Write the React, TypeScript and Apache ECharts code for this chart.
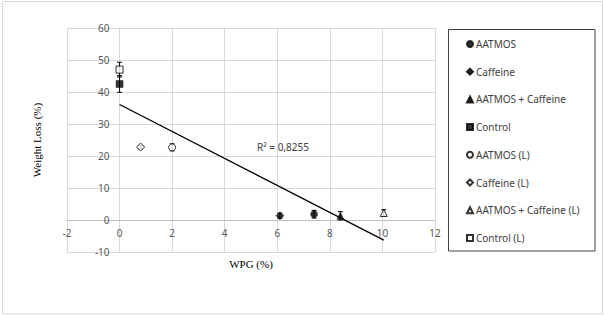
import React, { useEffect, useRef } from "react";
import * as echarts from "echarts";

// [x (WPG %), y (Weight loss %), error]
const aatmos = [[7.4, 1.8, 1.2]];
const caffeine = [[6.1, 1.35, 0.8]];
const aatmosCaffeine = [[8.4, 1.3, 1.3]];
const control = [[0, 42.5, 2.6]];
const aatmosL = [[2.0, 22.7, 1.1]];
const caffeineL = [[0.8, 22.8, 0.5]];
const aatmosCaffeineL = [[10.05, 2.2, 1.0]];
const controlL = [[0, 47, 2.3]];

const trendLine = [
  [0, 36.1],
  [10.05, -6.3],
];
const rSquaredLabel = "R² = 0,8255";

const xTicks = { min: -2, max: 12, interval: 2 };
const yTicks = { min: -10, max: 60, interval: 10 };

const seriesDefs = [
  { name: "AATMOS", data: aatmos, symbol: "circle", filled: true, size: 7 },
  { name: "Caffeine", data: caffeine, symbol: "diamond", filled: true, size: 8 },
  { name: "AATMOS + Caffeine", data: aatmosCaffeine, symbol: "triangle", filled: true, size: 7 },
  { name: "Control", data: control, symbol: "rect", filled: true, size: 7 },
  { name: "AATMOS (L)", data: aatmosL, symbol: "circle", filled: false, size: 7 },
  { name: "Caffeine (L)", data: caffeineL, symbol: "diamond", filled: false, size: 8 },
  { name: "AATMOS + Caffeine (L)", data: aatmosCaffeineL, symbol: "triangle", filled: false, size: 7 },
  { name: "Control (L)", data: controlL, symbol: "rect", filled: false, size: 7 },
];

const GRID = { left: 67, top: 28, width: 368, height: 224 };

export default function App() {
  const ref = useRef<HTMLDivElement>(null);
  useEffect(() => {
    document.body.style.margin = "0";
    const chart = echarts.init(ref.current!, null, { renderer: "svg" });

    const errorData: number[][] = [];
    seriesDefs.forEach((s) =>
      s.data.forEach((d) => errorData.push([d[0], d[1] - d[2], d[1] + d[2]]))
    );

    // axes cross at zero (Excel style): shift each axis, with its labels, onto the other's zero
    const xAxisOffset = -(GRID.height * (0 - yTicks.min)) / (yTicks.max - yTicks.min);
    const yAxisOffset = -(GRID.width * (0 - xTicks.min)) / (xTicks.max - xTicks.min);

    const scatterSeries = seriesDefs.map((s) => ({
      name: s.name,
      type: "scatter",
      symbol: s.symbol,
      symbolSize: s.size,
      z: 5,
      data: s.data.map((d) => [d[0], d[1]]),
      itemStyle: s.filled
        ? { color: "#000000", borderColor: "#000000", borderWidth: 0.5 }
        : { color: "#ffffff", borderColor: "#000000", borderWidth: 1 },
    }));

    const option: any = {
      animation: false,
      backgroundColor: "#ffffff",
      grid: {
        ...GRID,
        containLabel: false,
        outerBoundsMode: "none",
      },
      xAxis: {
        type: "value",
        min: xTicks.min,
        max: xTicks.max,
        interval: xTicks.interval,
        offset: xAxisOffset,
        name: "WPG (%)",
        nameLocation: "middle",
        nameGap: 38,
        nameMoveOverlap: false,
        nameTextStyle: {
          fontFamily: "Liberation Serif",
          fontSize: 11,
          fontWeight: "normal",
          color: "#000000",
        },
        axisLine: { onZero: false, lineStyle: { color: "#bfbfbf", width: 1 } },
        axisTick: { show: false },
        axisLabel: { color: "#595959", fontSize: 10, fontFamily: "Noto Sans", margin: 8 },
        splitLine: { show: true, lineStyle: { color: "#d9d9d9", width: 1 } },
      },
      yAxis: {
        type: "value",
        min: yTicks.min,
        max: yTicks.max,
        interval: yTicks.interval,
        offset: yAxisOffset,
        name: "Weight Loss (%)",
        nameLocation: "middle",
        nameGap: 77,
        nameMoveOverlap: false,
        nameTextStyle: {
          fontFamily: "Liberation Serif",
          fontSize: 11,
          fontWeight: "normal",
          color: "#000000",
        },
        axisLine: { onZero: false, lineStyle: { color: "#d9d9d9", width: 1 } },
        axisTick: { show: false },
        axisLabel: { color: "#595959", fontSize: 10, fontFamily: "Noto Sans", margin: 10 },
        splitLine: { show: true, lineStyle: { color: "#d9d9d9", width: 1 } },
      },
      legend: {
        orient: "vertical",
        left: 466,
        top: 29,
        padding: [9, 0, 0, 0],
        itemWidth: 6,
        itemHeight: 6,
        itemGap: 15.7,
        selectedMode: false,
        data: seriesDefs.map((s) => s.name),
        textStyle: {
          color: "#404040",
          fontSize: 10,
          fontFamily: "Noto Sans",
          lineHeight: 12,
          padding: [0, 0, 0, -2],
        },
      },
      graphic: [
        {
          type: "rect",
          shape: { x: 2.5, y: 1.5, width: 600, height: 312.5 },
          style: { fill: "none", stroke: "#d9d9d9", lineWidth: 1 },
          silent: true,
        },
        {
          type: "rect",
          shape: { x: 448.5, y: 29.5, width: 146.5, height: 221.5 },
          style: { fill: "none", stroke: "#404040", lineWidth: 1 },
          silent: true,
        },
        {
          type: "text",
          left: 257,
          top: 142,
          style: {
            text: rSquaredLabel,
            fill: "#404040",
            fontSize: 10,
            fontFamily: "Noto Sans",
          },
        },
      ],
      series: [
        {
          name: "trend",
          type: "line",
          data: trendLine,
          symbol: "none",
          lineStyle: { color: "#000000", width: 1.3 },
          z: 3,
          silent: true,
        },
        {
          name: "errors",
          type: "custom",
          z: 4,
          silent: true,
          data: errorData,
          renderItem: (params: any, api: any) => {
            const x = api.value(0);
            const lo = api.coord([x, api.value(1)]);
            const hi = api.coord([x, api.value(2)]);
            const cap = 2.5;
            const style = { stroke: "#000000", lineWidth: 1 };
            return {
              type: "group",
              children: [
                { type: "line", shape: { x1: lo[0], y1: lo[1], x2: hi[0], y2: hi[1] }, style },
                { type: "line", shape: { x1: lo[0] - cap, y1: lo[1], x2: lo[0] + cap, y2: lo[1] }, style },
                { type: "line", shape: { x1: hi[0] - cap, y1: hi[1], x2: hi[0] + cap, y2: hi[1] }, style },
              ],
            };
          },
        },
        ...scatterSeries,
      ],
    };
    chart.setOption(option);
    return () => chart.dispose();
  }, []);
  return <div ref={ref} style={{ width: 604, height: 316 }} />;
}
